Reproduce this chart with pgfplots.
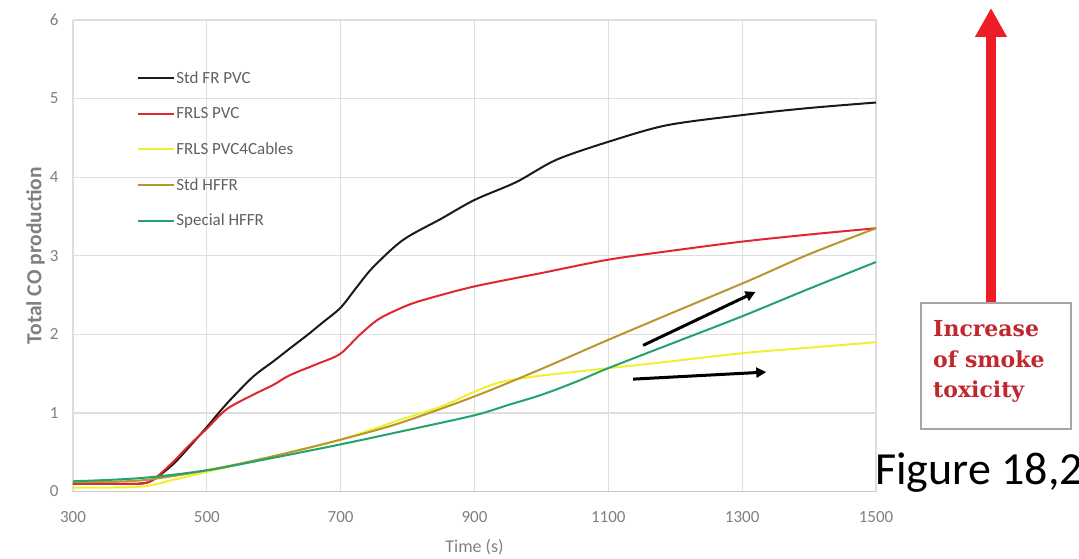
\documentclass[border=0pt]{standalone}
\usepackage{fontspec}
\setmainfont{Carlito}
\newfontfamily\boxfont{DejaVu Serif}
\usepackage{pgfplots}
\pgfplotsset{compat=1.18}
\usetikzlibrary{arrows.meta}
\definecolor{cblack}{HTML}{1A1A1A}
\definecolor{cred}{HTML}{E0262E}
\definecolor{cyellow}{HTML}{F0F030}
\definecolor{colive}{HTML}{B8962E}
\definecolor{cgreen}{HTML}{22A36B}
\definecolor{gridgray}{HTML}{DEDEDE}
\definecolor{axisgray}{HTML}{C8C8C8}
\definecolor{tickgray}{HTML}{808080}
\definecolor{legendgray}{HTML}{606060}
\definecolor{arrowred}{HTML}{EE1C24}
\definecolor{boxred}{HTML}{C1272D}
\definecolor{boxgray}{HTML}{A6A6A6}
\begin{document}
\begin{tikzpicture}
\useasboundingbox (0pt,0pt) rectangle (1079pt,558pt);
\begin{axis}[
  at={(73pt,66.5pt)}, anchor=south west,
  scale only axis, width=803pt, height=471.5pt,
  xmin=300, xmax=1500, ymin=0, ymax=6,
  xtick={300,500,...,1500}, ytick={0,1,...,6},
  grid=major, major grid style={color=gridgray, line width=1.2pt},
  axis line style={draw=none},
  major tick length=0pt,
  ticklabel style={font=\fontsize{17}{19}\selectfont, text=tickgray},
  xticklabel style={yshift=-16pt},
  yticklabel style={xshift=-11pt},
  /pgf/number format/assume math mode=true,
  /pgf/number format/1000 sep={},
  xlabel={Time (s)},
  ylabel={\bfseries Total CO production},
  xlabel style={font=\fontsize{18}{20}\selectfont, text=tickgray, at={(axis description cs:0.5,-0.1177)}, anchor=center},
  ylabel style={font=\fontsize{21.5}{24}\selectfont, text=tickgray, at={(axis description cs:-0.0467,0.5)}, anchor=center},
  legend style={at={(rel axis cs:0.0797,0.893)}, anchor=north west, draw=none, fill=none,
    font=\fontsize{17}{19}\selectfont, text=legendgray, row sep=20.5pt, inner sep=0pt,
    nodes={inner sep=1pt}},
  legend cell align=left,
  legend image code/.code={\draw[#1, line width=2.2pt] (0pt,0pt) -- (36pt,0pt);},
  every axis plot/.append style={line width=2pt, smooth, tension=0.5},
]
\draw[axisgray, line width=1.5pt] (rel axis cs:0,0) -- (rel axis cs:1,0);
\addplot[cblack] coordinates {(300,0.1)(350,0.1)(400,0.1)(420,0.15)(450,0.35)(475,0.58)(500,0.82)(530,1.12)(569,1.46)(600,1.66)(624,1.82)(650,1.99)(673,2.15)(700,2.34)(724,2.6)(748,2.85)(793,3.2)(850,3.47)(900,3.71)(963,3.94)(1022,4.22)(1100,4.45)(1187,4.66)(1300,4.79)(1400,4.88)(1500,4.95)};
\addlegendentry{Std FR PVC}
\addplot[cred] coordinates {(300,0.1)(350,0.1)(400,0.1)(420,0.15)(450,0.38)(475,0.6)(500,0.8)(530,1.05)(569,1.23)(600,1.36)(624,1.48)(664,1.62)(699,1.75)(728,1.99)(758,2.2)(800,2.37)(833,2.46)(900,2.61)(1000,2.78)(1100,2.95)(1200,3.07)(1300,3.18)(1400,3.27)(1500,3.35)};
\addlegendentry{FRLS PVC}
\addplot[cyellow] coordinates {(300,0.05)(400,0.06)(450,0.15)(500,0.25)(600,0.45)(700,0.66)(788,0.91)(850,1.08)(900,1.27)(938,1.39)(987,1.46)(1037,1.51)(1100,1.57)(1177,1.64)(1300,1.76)(1400,1.83)(1500,1.9)};
\addlegendentry{FRLS PVC4Cables}
\addplot[colive] coordinates {(300,0.12)(400,0.14)(500,0.27)(600,0.45)(700,0.66)(788,0.87)(900,1.21)(1000,1.56)(1100,1.93)(1200,2.29)(1312,2.69)(1400,3.02)(1500,3.35)};
\addlegendentry{Std HFFR}
\addplot[cgreen] coordinates {(300,0.13)(400,0.17)(500,0.27)(600,0.43)(700,0.6)(788,0.76)(900,0.97)(950,1.1)(1000,1.23)(1050,1.39)(1100,1.57)(1200,1.9)(1300,2.23)(1400,2.58)(1500,2.92)};
\addlegendentry{Special HFFR}
\draw[-{Triangle[length=10pt,width=10pt]}, line width=3pt, black] (axis cs:1152,1.86) -- (axis cs:1320,2.54);
\draw[-{Triangle[length=10pt,width=10pt]}, line width=3pt, black] (axis cs:1137,1.43) -- (axis cs:1336,1.52);
\end{axis}
\draw[-{Triangle[length=29pt,width=30pt]}, line width=10pt, arrowred] (991pt,254pt) -- (991pt,550pt);
\draw[boxgray, line width=1.8pt, fill=white] (921pt,129pt) rectangle (1071pt,255pt);
\node[anchor=base west, inner sep=0pt, text=boxred, font=\boxfont\bfseries\fontsize{22}{24}\selectfont] at (933pt,221.5pt) {Increase};
\node[anchor=base west, inner sep=0pt, text=boxred, font=\boxfont\bfseries\fontsize{22}{24}\selectfont] at (933pt,191pt) {of smoke};
\node[anchor=base west, inner sep=0pt, text=boxred, font=\boxfont\bfseries\fontsize{22}{24}\selectfont] at (933pt,160.5pt) {toxicity};
\node[anchor=base west, inner sep=0pt, font=\fontsize{46}{52}\selectfont] at (875pt,74pt) {Figure 18,2};
\end{tikzpicture}
\end{document}
